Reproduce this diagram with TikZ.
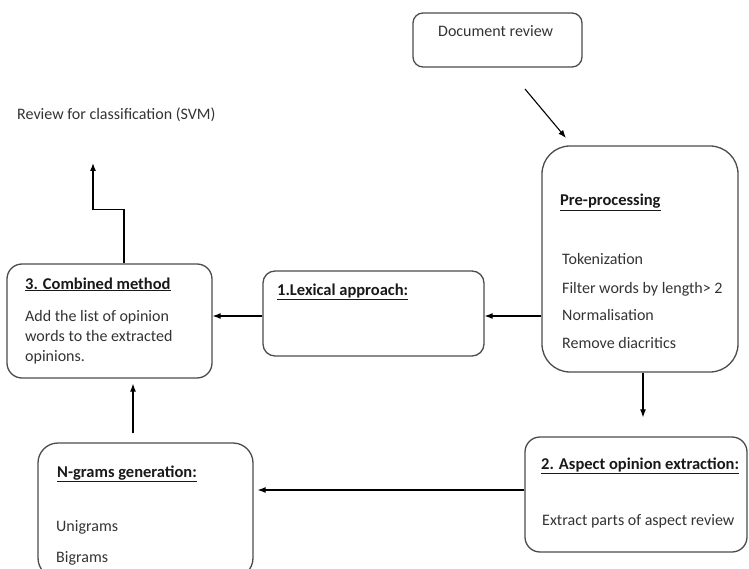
\documentclass[tikz,border=0pt]{standalone}
\usepackage{fontspec}
\setmainfont{Carlito}
\usetikzlibrary{arrows.meta}

\begin{document}
\begin{tikzpicture}[x=1pt, y=-1pt,
    box/.style={draw=black!70, line width=1.3pt, rounded corners=#1, inner sep=0pt},
    box/.default=14pt,
    txt/.style={anchor=base west, inner sep=0pt, font=\fontsize{16}{19}\selectfont, text=black!80},
    ttl/.style={txt, font=\fontsize{16.5}{19}\selectfont\bfseries, text=black!90},
    arr/.style={-{Latex[length=8pt,width=6pt]}, line width=1.1pt}]
            \clip (0,0) rectangle (749,569);
            % boxes
            \node[box=10pt, minimum width=169pt, minimum height=54pt] (doc) at (497.5,40) {};
            \node[box=28pt, minimum width=196pt, minimum height=226pt] (pre) at (640,259) {};
            \node[box=12pt, minimum width=221pt, minimum height=85pt] (lex) at (373.5,313.5) {};
            \node[box=15pt, minimum width=205pt, minimum height=114pt] (comb) at (109.5,321) {};
            \node[box=15pt, minimum width=222pt, minimum height=115pt] (asp) at (636,494.5) {};
            \node[box=20pt, minimum width=215pt, minimum height=135pt] (ngr) at (145.5,510.5) {};
            % texts
            \node[txt] (doct) at (438,37) {Document review};
            \node[txt] (svm) at (17,120) {Review for classification (SVM)};
            \node[ttl] (pret) at (560,206) {\underline{Pre-processing}};
            \node[txt] (tok) at (562,265) {Tokenization};
            \node[txt] (filt) at (562,293) {Filter words by length> 2};
            \node[txt] (norm) at (562,320) {Normalisation};
            \node[txt] (diac) at (562,348) {Remove diacritics};
            \node[ttl] (lext) at (277,295) {\underline{1.Lexical approach:}};
            \node[ttl] (combt) at (25,289) {\underline{3. Combined method}};
            \node[txt] (comb1) at (25,321) {Add the list of opinion};
            \node[txt] (comb2) at (25,341) {words to the extracted};
            \node[txt] (comb3) at (25,361) {opinions.};
            \node[ttl] (aspt) at (541,469) {\underline{2. Aspect opinion extraction:}};
            \node[txt] (aspb) at (542,525) {Extract parts of aspect review};
            \node[ttl] (ngrt) at (57,477) {\underline{N-grams generation:}};
            \node[txt] (uni) at (56,531) {Unigrams};
            \node[txt] (bi) at (56,562) {Bigrams};
            % connectors
            \coordinate (from) at (525,89);
            \coordinate (to) at (566,138);
            \coordinate (cls) at (93,163);
            \draw[arr] (from) -- (to);
            \draw[arr] (pre.west |- 0,316) -- (lex.east |- 0,316);
            \draw[arr] (lex.west |- 0,316) -- (comb.east |- 0,316);
            \draw[arr, shorten >=19pt] ([xshift=3pt]pre.south) -- ([xshift=3pt]pre.south |- asp.north);
            \draw[arr, shorten >=4pt] (asp.west |- 0,490) -- (ngr.east |- 0,490);
            \draw[arr, shorten <=9pt, shorten >=5pt] ([xshift=-12.5pt]ngr.north) -- ([xshift=-12.5pt]ngr.north |- comb.south);
            \draw[arr] ([xshift=14.5pt]comb.north) -- ++(0,-54) -| (cls);
        \end{tikzpicture}
\end{document}
